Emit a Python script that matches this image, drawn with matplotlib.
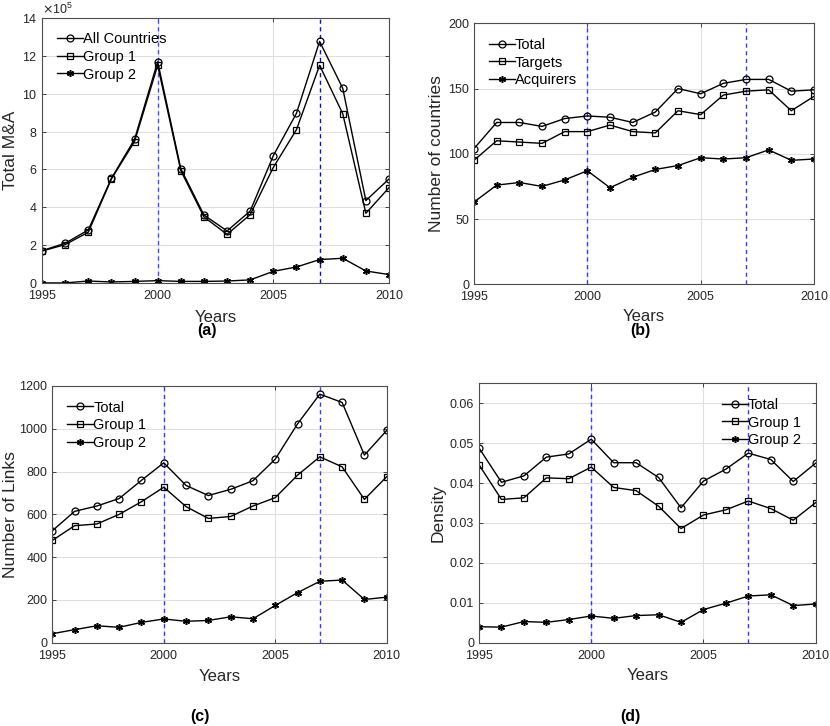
import numpy as np
import matplotlib
matplotlib.use("Agg")
import matplotlib.pyplot as plt
from matplotlib.ticker import ScalarFormatter

plt.rcParams['font.family'] = ['Liberation Sans', 'DejaVu Sans']

years = np.arange(1995, 2011)
crisis_years = [2000, 2007]

# (a) total M&A
ma_all = np.array([1.72, 2.11, 2.81, 5.53, 7.59, 11.68, 6.04, 3.60, 2.76, 3.81,
                   6.73, 8.96, 12.75, 10.28, 4.36, 5.50]) * 1e5
ma_g1 = np.array([1.70, 2.04, 2.69, 5.50, 7.47, 11.49, 5.94, 3.50, 2.58, 3.62,
                  6.11, 8.10, 11.49, 8.94, 3.69, 5.04]) * 1e5
ma_g2 = np.array([0.02, 0.02, 0.12, 0.07, 0.10, 0.14, 0.10, 0.10, 0.12, 0.18,
                  0.63, 0.86, 1.25, 1.32, 0.65, 0.46]) * 1e5

# (b) number of countries
n_total = [104, 124, 124, 121, 127, 129, 128, 124, 132, 150, 146, 154, 157, 157, 148, 149]
n_targets = [95, 110, 109, 108, 117, 117, 122, 117, 116, 133, 130, 145, 148, 149, 133, 144]
n_acquirers = [63, 76, 78, 75, 80, 87, 74, 82, 88, 91, 97, 96, 97, 103, 95, 96]

# (c) number of links
links_total = [523, 614, 639, 674, 759, 841, 735, 688, 717, 757, 858, 1023, 1162, 1123, 877, 992]
links_g1 = [478, 547, 555, 600, 659, 727, 636, 581, 590, 639, 678, 783, 869, 822, 670, 776]
links_g2 = [42, 61, 79, 72, 95, 111, 100, 104, 121, 112, 174, 234, 287, 293, 202, 213]

# (d) density
dens_total = [0.0488, 0.0402, 0.0418, 0.0465, 0.0473, 0.0510, 0.0451, 0.0451, 0.0414, 0.0338,
              0.0405, 0.0435, 0.0475, 0.0459, 0.0404, 0.0450]
dens_g1 = [0.0446, 0.0359, 0.0363, 0.0413, 0.0411, 0.0440, 0.0389, 0.0381, 0.0342, 0.0286,
           0.0320, 0.0333, 0.0355, 0.0336, 0.0307, 0.0351]
dens_g2 = [0.0040, 0.0039, 0.0053, 0.0051, 0.0058, 0.0067, 0.0061, 0.0068, 0.0070, 0.0051,
           0.0083, 0.0099, 0.0117, 0.0120, 0.0093, 0.0097]

W, H = 830, 726
fig = plt.figure(figsize=(W / 100, H / 100), dpi=100)
TXT = '#262626'


def make_ax(l, r, t, b):
    return fig.add_axes([l / W, 1 - b / H, (r - l) / W, (b - t) / H])


def style(ax, ylim, yticks, ylabel, ylab_x, xlab_y):
    ax.set_xlim(1995, 2010)
    ax.set_ylim(*ylim)
    ax.set_xticks([1995, 2000, 2005, 2010])
    ax.set_yticks(yticks)
    ax.grid(True, color='#e0e0e0', linewidth=0.8)
    ax.set_axisbelow(True)
    ax.tick_params(direction='in', top=True, right=True, labelsize=9,
                   colors=TXT, length=3, width=0.6)
    ax.tick_params(axis='x', pad=5)
    ax.tick_params(axis='y', pad=3.5)
    for s in ax.spines.values():
        s.set_color('#4d4d4d')
        s.set_linewidth(0.8)
    ax.set_xlabel('Years', fontsize=12, color=TXT, va='center')
    ax.set_ylabel(ylabel, fontsize=12.5, color=TXT, va='center')
    ax.xaxis.set_label_coords(0.5, xlab_y)
    ax.yaxis.set_label_coords(ylab_x, 0.5)


def series(ax, a, b, c, labels, loc):
    ax.plot(years, a, '-o', color='k', lw=1, ms=5, mfc='none', mew=0.9, label=labels[0])
    ax.plot(years, b, '-s', color='k', lw=1, ms=4, mfc='none', mew=0.9, label=labels[1])
    ax.plot(years, c, '-', marker=(6, 2, 0), color='k', lw=1, ms=5, mew=1.1, label=labels[2])
    ax.legend(loc=loc, frameon=False, fontsize=10.5, handlelength=1.8,
              handletextpad=0.0, labelspacing=0.25, borderaxespad=0.6)


def crisis(ax, colors):
    for x, c in zip(crisis_years, colors):
        ax.axvline(x, color=c, ls=(0, (3, 2.5)), lw=1.0, zorder=1)


def panel_tag(x, y, s):
    fig.text(x / W, 1 - y / H, s, fontsize=11.5, fontweight='bold', ha='center', va='center')


# (a)
ax = make_ax(42, 389, 17.7, 283.3)
crisis(ax, ['#4a4aff', '#1010c0'])
series(ax, ma_all, ma_g1, ma_g2, ['All Countries', 'Group 1', 'Group 2'], 'upper left')
style(ax, (0, 14e5), np.arange(0, 15e5, 2e5), 'Total M&A', -0.092, -0.127)
fmt = ScalarFormatter(useMathText=True)
fmt.set_powerlimits((5, 5))
ax.yaxis.set_major_formatter(fmt)
ax.yaxis.get_offset_text().set_fontsize(9)
ax.yaxis.get_offset_text().set_color(TXT)
panel_tag(207, 331, '(a)')

# (b)
ax = make_ax(474, 814, 23.3, 284.3)
crisis(ax, ['#3a3aff', '#3a3aff'])
series(ax, n_total, n_targets, n_acquirers, ['Total', 'Targets', 'Acquirers'], 'upper left')
style(ax, (0, 200), np.arange(0, 201, 50), 'Number of countries', -0.109, -0.125)
panel_tag(640, 331, '(b)')

# (c)
ax = make_ax(52.3, 386.7, 386, 642.7)
crisis(ax, ['#3a3aff', '#3a3aff'])
series(ax, links_total, links_g1, links_g2, ['Total', 'Group 1', 'Group 2'], 'upper left')
style(ax, (0, 1200), np.arange(0, 1201, 200), 'Number of Links', -0.126, -0.13)
panel_tag(200, 717, '(c)')

# (d)
ax = make_ax(479, 815.7, 383.3, 642.7)
crisis(ax, ['#3a3aff', '#3a3aff'])
series(ax, dens_total, dens_g1, dens_g2, ['Total', 'Group 1', 'Group 2'], 'upper right')
style(ax, (0, 0.065), np.arange(0, 0.061, 0.01), 'Density', -0.122, -0.128)
ax.set_yticklabels(['0', '0.01', '0.02', '0.03', '0.04', '0.05', '0.06'])
panel_tag(630, 717, '(d)')

fig.savefig('out.png', dpi=100)
